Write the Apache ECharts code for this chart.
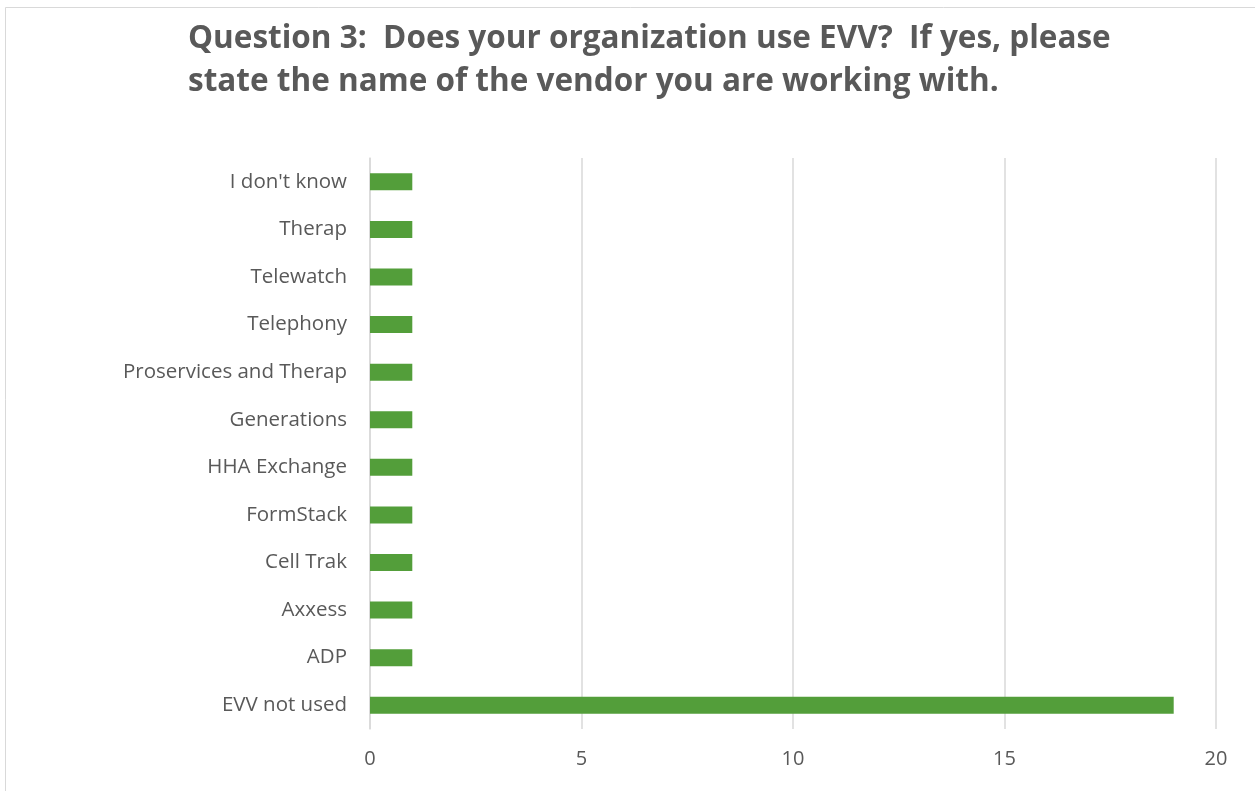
<!DOCTYPE html>
<html><head><meta charset="utf-8">
<script src="https://cdn.jsdelivr.net/npm/echarts@6/dist/echarts.min.js"></script>
<style>html,body{margin:0;padding:0;background:#fff}#c{width:1255px;height:791px}</style>
</head><body><div id="c"></div>
<script>
const categories = ["EVV not used","ADP","Axxess","Cell Trak","FormStack","HHA Exchange","Generations","Proservices and Therap","Telephony","Telewatch","Therap","I don't know"];
const values = [19,1,1,1,1,1,1,1,1,1,1,1];
const xTicks = [0,5,10,15,20];
const titleText = "Question 3:  Does your organization use EVV?  If yes, please\nstate the name of the vendor you are working with.";

const chart = echarts.init(document.getElementById('c'));
chart.setOption({
  animation:false,
  backgroundColor:'#fff',
  graphic:[{type:'rect',shape:{x:5.5,y:7.5,width:1260,height:800},style:{fill:'none',stroke:'#d9d9d9',lineWidth:1},silent:true,z:-1}],
  title:{text:titleText,left:183,top:13,textStyle:{fontFamily:'Open Sans',fontWeight:'bold',fontSize:31.5,color:'#595959',lineHeight:43}},
  grid:{left:370,right:39,top:158,bottom:62,containLabel:false},
  xAxis:{type:'value',min:xTicks[0],max:xTicks[xTicks.length-1],interval:5,
    axisLine:{show:false},axisTick:{show:false},
    axisLabel:{color:'#595959',fontSize:20,fontFamily:'Open Sans',margin:20},
    splitLine:{show:true,lineStyle:{color:'#d9d9d9',width:1.5}}},
  yAxis:{type:'category',data:categories,
    axisLine:{show:true,lineStyle:{color:'#d9d9d9',width:1.5}},axisTick:{show:false},
    axisLabel:{color:'#595959',fontSize:20.5,fontFamily:'Open Sans',margin:23}},
  series:[{type:'bar',data:values,barWidth:17,itemStyle:{color:'#539E3A'}}]
});
</script></body></html>
